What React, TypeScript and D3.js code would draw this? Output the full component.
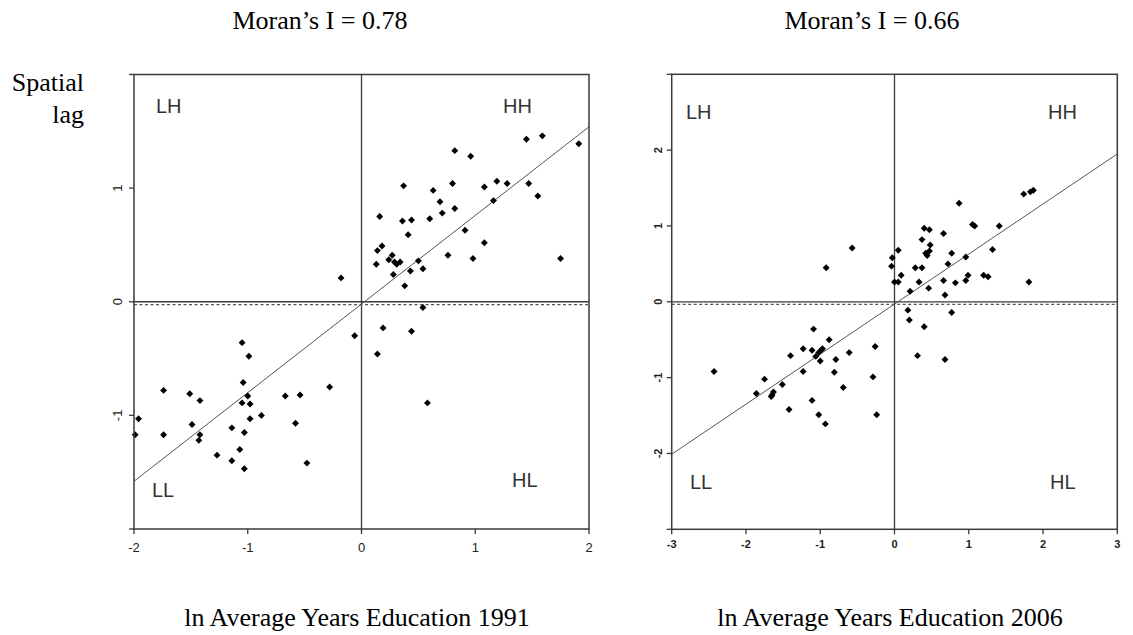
import { useRef, useEffect } from "react";
import * as d3 from "d3";

type Pt = [number, number];

// ln average years of education (standardised) vs its spatial lag
const points1991: Pt[] = [
  [-0.18, 0.21], [0.16, 0.75], [0.37, 1.02], [0.14, 0.45], [0.18, 0.49],
  [0.13, 0.33], [0.24, 0.37], [0.27, 0.41], [0.29, 0.35], [0.31, 0.33],
  [0.34, 0.35], [0.28, 0.24], [0.36, 0.71], [0.44, 0.72], [0.41, 0.59],
  [0.38, 0.14], [0.43, 0.27], [0.5, 0.36], [0.54, 0.29], [0.6, 0.73],
  [0.63, 0.98], [0.69, 0.88], [0.71, 0.78], [0.8, 1.04], [0.82, 1.33],
  [0.82, 0.82], [0.76, 0.41], [0.91, 0.63], [0.96, 1.28], [0.98, 0.38],
  [1.08, 1.01], [1.08, 0.52], [1.16, 0.89], [1.19, 1.06], [1.28, 1.04],
  [1.45, 1.43], [1.47, 1.04], [1.55, 0.93], [1.59, 1.46], [1.75, 0.38],
  [1.91, 1.39],
  [0.54, -0.05], [0.19, -0.23], [0.44, -0.26], [0.14, -0.46], [0.58, -0.89],
  [-0.06, -0.3],
  [-1.05, -0.36], [-0.99, -0.48], [-1.04, -0.71], [-0.28, -0.75], [-1.74, -0.78],
  [-1.51, -0.81], [-1.42, -0.87], [-1.0, -0.83], [-1.05, -0.89], [-0.98, -0.9],
  [-0.67, -0.83], [-0.54, -0.82], [-0.88, -1.0], [-0.98, -1.03], [-1.96, -1.03],
  [-1.99, -1.17], [-1.74, -1.17], [-1.49, -1.08], [-1.42, -1.17], [-1.43, -1.22],
  [-1.14, -1.11], [-1.03, -1.15], [-0.58, -1.07], [-1.07, -1.3], [-1.27, -1.35],
  [-1.14, -1.4], [-1.03, -1.47], [-0.48, -1.42],
];

const points2006: Pt[] = [
  [-0.57, 0.71], [-0.92, 0.45], [-0.03, 0.58], [-0.04, 0.47], [0.05, 0.68],
  [0.0, 0.26], [0.05, 0.26], [0.09, 0.35], [0.21, 0.14], [0.28, 0.45],
  [0.33, 0.26], [0.37, 0.45], [0.37, 0.82], [0.4, 0.97], [0.47, 0.95],
  [0.48, 0.75], [0.42, 0.64], [0.44, 0.61], [0.47, 0.67], [0.46, 0.18],
  [0.66, 0.9], [0.66, 0.28], [0.68, 0.09], [0.72, 0.5], [0.77, 0.64],
  [0.82, 0.25], [0.87, 1.3], [0.96, 0.59], [0.96, 0.28], [0.99, 0.35],
  [1.05, 1.02], [1.08, 1.0], [1.2, 0.35], [1.26, 0.33], [1.32, 0.69],
  [1.41, 1.0], [1.74, 1.42], [1.83, 1.45], [1.87, 1.47], [1.81, 0.26],
  [0.18, -0.11], [0.77, -0.14], [0.2, -0.24], [0.4, -0.33], [0.31, -0.71],
  [0.68, -0.76],
  [-1.09, -0.36], [-0.88, -0.5], [-1.23, -0.62], [-1.11, -0.64], [-0.99, -0.64],
  [-0.97, -0.62], [-1.02, -0.67], [-1.06, -0.72], [-1.0, -0.78], [-1.4, -0.71],
  [-0.79, -0.76], [-0.61, -0.67], [-0.26, -0.59], [-1.23, -0.92], [-0.81, -0.93],
  [-0.29, -0.99], [-2.43, -0.92], [-1.75, -1.02], [-1.51, -1.09], [-1.86, -1.21],
  [-1.63, -1.19], [-1.65, -1.23], [-1.66, -1.25], [-0.69, -1.13], [-1.11, -1.3],
  [-1.42, -1.42], [-1.02, -1.49], [-0.24, -1.49], [-0.93, -1.61],
];

const titles = ["Moran\u2019s I = 0.78", "Moran\u2019s I = 0.66"];
const xLabels = ["ln Average Years Education 1991", "ln Average Years Education 2006"];
const slopes = [0.78, 0.66];
const intercepts = [-0.02, -0.03];
const meanLag = [-0.026, -0.035];
const ticks1991 = [-2, -1, 0, 1, 2];
const ticks2006 = [-3, -2, -1, 0, 1, 2, 3];
const quadrants = ["LH", "HH", "LL", "HL"];

const W = 1133;
const H = 635;
const serif = "'Liberation Serif', 'Times New Roman', serif";
const sans = "'Liberation Sans', Arial, sans-serif";

type PanelCfg = {
  pts: Pt[];
  ticks: number[];
  x0: number;
  x1: number;
  y0: number;
  y1: number;
  slope: number;
  intercept: number;
  lagMean: number;
  tickSize: number;
  tickWeight: string;
  yLabelX: number;
  xLabelY: number;
  quadPos: [number, number][];
};

function drawPanel(svg: d3.Selection<SVGSVGElement, unknown, null, undefined>, c: PanelCfg) {
  const lo = c.ticks[0];
  const hi = c.ticks[c.ticks.length - 1];
  const x = d3.scaleLinear().domain([lo, hi]).range([c.x0, c.x1]);
  const y = d3.scaleLinear().domain([lo, hi]).range([c.y1, c.y0]);
  const g = svg.append("g");
  const ink = "#3a3a3a";

  // quadrant lines
  g.append("line")
    .attr("x1", x(0)).attr("x2", x(0))
    .attr("y1", c.y0).attr("y2", c.y1)
    .attr("stroke", ink).attr("stroke-width", 1.3);
  g.append("line")
    .attr("x1", c.x0).attr("x2", c.x1)
    .attr("y1", y(0)).attr("y2", y(0))
    .attr("stroke", ink).attr("stroke-width", 1.3);
  g.append("line")
    .attr("x1", c.x0).attr("x2", c.x1)
    .attr("y1", y(c.lagMean)).attr("y2", y(c.lagMean))
    .attr("stroke", "#555").attr("stroke-width", 1.3)
    .attr("stroke-dasharray", "3,2.5");

  // regression line
  g.append("line")
    .attr("x1", x(lo)).attr("y1", y(c.intercept + c.slope * lo))
    .attr("x2", x(hi)).attr("y2", y(c.intercept + c.slope * hi))
    .attr("stroke", "#555").attr("stroke-width", 1);

  // points
  const sym = d3.symbol().type(d3.symbolSquare).size(24);
  g.selectAll("path.pt")
    .data(c.pts)
    .join("path")
    .attr("class", "pt")
    .attr("d", sym)
    .attr("transform", (d) => `translate(${x(d[0])},${y(d[1])}) rotate(45)`)
    .attr("fill", "#000");

  // frame
  g.append("rect")
    .attr("x", c.x0).attr("y", c.y0)
    .attr("width", c.x1 - c.x0).attr("height", c.y1 - c.y0)
    .attr("fill", "none").attr("stroke", ink).attr("stroke-width", 1.5);

  // ticks
  g.selectAll("line.xt")
    .data(c.ticks)
    .join("line")
    .attr("x1", (d) => x(d)).attr("x2", (d) => x(d))
    .attr("y1", c.y1).attr("y2", c.y1 + 5)
    .attr("stroke", ink).attr("stroke-width", 1.3);
  g.selectAll("line.yt")
    .data(c.ticks)
    .join("line")
    .attr("x1", c.x0 - 5).attr("x2", c.x0)
    .attr("y1", (d) => y(d)).attr("y2", (d) => y(d))
    .attr("stroke", ink).attr("stroke-width", 1.3);

  g.selectAll("text.xl")
    .data(c.ticks)
    .join("text")
    .attr("x", (d) => x(d))
    .attr("y", c.xLabelY)
    .attr("text-anchor", "middle")
    .attr("font-family", sans)
    .attr("font-size", c.tickSize)
    .attr("font-weight", c.tickWeight)
    .attr("fill", "#222")
    .text((d) => String(d));

  g.selectAll("text.yl")
    .data(c.ticks.slice(1, -1))
    .join("text")
    .attr("transform", (d) => `translate(${c.yLabelX},${y(d)}) rotate(-90)`)
    .attr("text-anchor", "middle")
    .attr("font-family", sans)
    .attr("font-size", c.tickSize)
    .attr("font-weight", c.tickWeight)
    .attr("fill", "#222")
    .text((d) => String(d));

  quadrants.forEach((t, i) => {
    g.append("text")
      .attr("x", c.quadPos[i][0])
      .attr("y", c.quadPos[i][1])
      .attr("font-family", sans)
      .attr("font-size", 20)
      .attr("fill", "#333")
      .text(t);
  });
}

export default function App() {
  const svgRef = useRef<SVGSVGElement>(null);

  useEffect(() => {
    if (!svgRef.current) return;
    const svg = d3.select(svgRef.current);
    svg.selectAll("*").remove();

    svg.append("rect").attr("width", W).attr("height", H).attr("fill", "#fff");

    drawPanel(svg, {
      pts: points1991,
      ticks: ticks1991,
      x0: 134, x1: 589, y0: 74.5, y1: 529,
      slope: slopes[0], intercept: intercepts[0], lagMean: meanLag[0],
      tickSize: 13, tickWeight: "normal",
      yLabelX: 121.5, xLabelY: 552,
      quadPos: [[156, 113], [503, 113], [152, 497], [512, 487]],
    });
    drawPanel(svg, {
      pts: points2006,
      ticks: ticks2006,
      x0: 671.7, x1: 1117.3, y0: 74.3, y1: 529.3,
      slope: slopes[1], intercept: intercepts[1], lagMean: meanLag[1],
      tickSize: 11, tickWeight: "bold",
      yLabelX: 662, xLabelY: 548,
      quadPos: [[686, 119], [1048, 119], [690, 489], [1050, 489]],
    });

    // titles
    const titleX = [320, 872];
    titles.forEach((t, i) => {
      svg.append("text")
        .attr("x", titleX[i]).attr("y", 29)
        .attr("text-anchor", "middle")
        .attr("font-family", serif).attr("font-size", 26)
        .attr("fill", "#000")
        .text(t);
    });

    // axis titles
    const labelX = [357, 890];
    xLabels.forEach((t, i) => {
      svg.append("text")
        .attr("x", labelX[i]).attr("y", 626)
        .attr("text-anchor", "middle")
        .attr("font-family", serif).attr("font-size", 26)
        .attr("fill", "#000")
        .text(t);
    });

    svg.append("text")
      .attr("x", 84).attr("y", 91)
      .attr("text-anchor", "end")
      .attr("font-family", serif).attr("font-size", 26)
      .text("Spatial");
    svg.append("text")
      .attr("x", 84).attr("y", 123)
      .attr("text-anchor", "end")
      .attr("font-family", serif).attr("font-size", 26)
      .text("lag");
  }, []);

  return (
    <svg
      ref={svgRef}
      width={W}
      height={H}
      viewBox={`0 0 ${W} ${H}`}
      style={{ position: "absolute", left: 0, top: 0 }}
    />
  );
}
